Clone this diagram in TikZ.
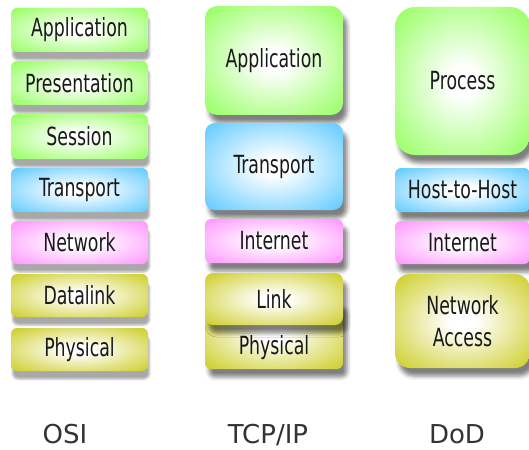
\documentclass[tikz,border=0pt]{standalone}
\usepackage{fontspec}
\usetikzlibrary{shadows.blur}
\newfontfamily\boxfont[FakeStretch=0.77]{DejaVu Sans Condensed}
\newfontfamily\capfont{DejaVu Sans}
\definecolor{cgreen}{RGB}{153,255,102}
\definecolor{cblue}{RGB}{102,204,255}
\definecolor{cpink}{RGB}{255,153,255}
\definecolor{colive}{RGB}{204,204,34}
\definecolor{captxt}{RGB}{51,51,51}
\pgfdeclareradialshading{shgreen}{\pgfpoint{0bp}{0bp}}{color(0bp)=(white); color(5bp)=(white); color(34bp)=(cgreen); color(50bp)=(cgreen)}
\pgfdeclareradialshading{shblue}{\pgfpoint{0bp}{0bp}}{color(0bp)=(white); color(5bp)=(white); color(34bp)=(cblue); color(50bp)=(cblue)}
\pgfdeclareradialshading{shpink}{\pgfpoint{0bp}{0bp}}{color(0bp)=(white); color(5bp)=(white); color(34bp)=(cpink); color(50bp)=(cpink)}
\pgfdeclareradialshading{sholive}{\pgfpoint{0bp}{0bp}}{color(0bp)=(white); color(5bp)=(white); color(36bp)=(colive); color(50bp)=(colive)}
\tikzset{
  layer/.style={rectangle, rounded corners=6pt, inner sep=0pt, text=black!90,
    font={\boxfont\fontsize{25}{32}\selectfont}, align=center},
  osibox/.style={layer, minimum width=137pt,
    blur shadow={shadow xshift=1.5pt, shadow yshift=-8pt, shadow blur radius=2pt, shadow opacity=34}},
  tcpbox/.style={layer, minimum width=138pt,
    blur shadow={shadow xshift=4pt, shadow yshift=-8pt, shadow blur radius=4pt, shadow opacity=50}},
  dodbox/.style={layer, minimum width=135pt,
    blur shadow={shadow xshift=4pt, shadow yshift=-8pt, shadow blur radius=4pt, shadow opacity=50}},
  green/.style={shading=shgreen},
  blue/.style={shading=shblue},
  pink/.style={shading=shpink},
  olive/.style={shading=sholive},
  caption/.style={font={\capfont\fontsize{26}{30}\selectfont}, text=captxt, anchor=base, inner sep=0pt}
}
\begin{document}
\begin{tikzpicture}[x=1pt,y=-1pt]
\useasboundingbox (0,0) rectangle (529,449);
% OSI
\node[osibox, green, minimum height=44pt] (osiapp) at (79.5,30) {Application};
\node[osibox, green, minimum height=44pt] (osipre) at (79.5,83) {Presentation};
\node[osibox, green, minimum height=45pt] (osises) at (79.5,136.5) {Session};
\node[osibox, blue, minimum height=44pt] (ositra) at (79.5,190) {Transport};
\node[osibox, pink, minimum height=43pt] (osinet) at (79.5,242.5) {Network};
\node[osibox, olive, minimum height=43pt] (osidat) at (79.5,295.5) {Datalink};
\node[osibox, olive, minimum height=43pt] (osiphy) at (79.5,349.5) {Physical};
% TCP/IP
\node[tcpbox, green, minimum height=109pt, rounded corners=12pt] (tcpapp) at (274,60.5) {Application};
\node[tcpbox, blue, minimum height=87pt, rounded corners=10pt] (tcptra) at (274,166.5) {Transport};
\node[tcpbox, pink, minimum height=44pt] (tcpint) at (274,241) {Internet};
\node[tcpbox, olive, minimum height=69pt] (tcpphy) at (274,334.5) {};
\node[layer] (tcpphylabel) at (274,347.5) {Physical};
\node[tcpbox, olive, minimum height=52pt, rounded corners=8pt] (tcplink) at (274,299) {Link};
% DoD
\node[dodbox, green, minimum height=148pt, rounded corners=20pt] (dodpro) at (462.5,81) {Process};
\node[dodbox, blue, minimum height=44pt] (dodhost) at (462.5,190) {Host-to-Host};
\node[dodbox, pink, minimum height=43pt] (dodint) at (462.5,242.5) {Internet};
\node[dodbox, olive, minimum height=94pt, rounded corners=15pt] (dodna) at (462.5,321) {Network\\Access};
% captions
\node[caption] (osicap) at (65,443) {OSI};
\node[caption] (tcpcap) at (268,443) {TCP/IP};
\node[caption] (dodcap) at (457,443) {DoD};
\end{tikzpicture}
\end{document}
